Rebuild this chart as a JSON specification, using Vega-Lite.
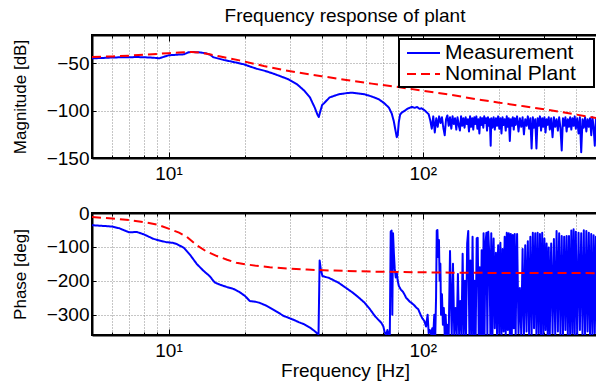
{
  "$schema": "https://vega.github.io/schema/vega-lite/v6.json",
  "padding": {"left": 10, "top": 5, "right": 0, "bottom": 0},
  "bounds": "flush",
  "spacing": 55,
  "config": {
    "font": "Liberation Sans",
    "view": {"stroke": "black", "strokeWidth": 2},
    "axis": {
      "domainColor": "black", "domainWidth": 2, "tickColor": "black", "tickWidth": 1,
      "labelColor": "black", "labelFont": "Liberation Sans", "labelFontSize": 19,
      "titleFont": "Liberation Sans", "titleFontWeight": "normal", "titleColor": "black",
      "gridColor": "#8c8c8c", "gridDash": [1, 2], "gridWidth": 1, "gridOpacity": 1
    },
    "legend": {
      "orient": "top-right", "offset": 4, "padding": 3, "strokeColor": "black", "strokeWidth": 2,
      "fillColor": "white", "labelFont": "Liberation Sans", "labelFontSize": 21, "labelColor": "black",
      "symbolType": "M-0.6,0H2.7", "symbolSize": 400, "symbolStrokeWidth": 2, "rowPadding": 0, "labelOffset": 21
    },
    "title": {"font": "Liberation Sans", "fontSize": 19, "fontWeight": "normal", "color": "black", "offset": 9, "anchor": "middle"}
  },
  "datasets": {
    "mag": [
      {"s": "Measurement", "f": 5, "v": -44.6},
      {"s": "Measurement", "f": 5.5, "v": -44.3},
      {"s": "Measurement", "f": 6, "v": -43.8},
      {"s": "Measurement", "f": 6.4, "v": -43.6},
      {"s": "Measurement", "f": 7, "v": -43.5},
      {"s": "Measurement", "f": 7.5, "v": -43.3},
      {"s": "Measurement", "f": 8, "v": -43.5},
      {"s": "Measurement", "f": 8.7, "v": -44},
      {"s": "Measurement", "f": 9.2, "v": -44.6},
      {"s": "Measurement", "f": 9.6, "v": -43},
      {"s": "Measurement", "f": 10, "v": -41.5},
      {"s": "Measurement", "f": 10.8, "v": -40.8},
      {"s": "Measurement", "f": 11.5, "v": -40.4},
      {"s": "Measurement", "f": 12, "v": -38.2},
      {"s": "Measurement", "f": 12.5, "v": -38},
      {"s": "Measurement", "f": 13.3, "v": -38.4},
      {"s": "Measurement", "f": 14.1, "v": -39.5},
      {"s": "Measurement", "f": 14.6, "v": -41},
      {"s": "Measurement", "f": 15, "v": -43.5},
      {"s": "Measurement", "f": 16.5, "v": -46.4},
      {"s": "Measurement", "f": 18, "v": -48.5},
      {"s": "Measurement", "f": 19.8, "v": -51},
      {"s": "Measurement", "f": 21, "v": -53.5},
      {"s": "Measurement", "f": 22.2, "v": -55.6},
      {"s": "Measurement", "f": 24, "v": -58},
      {"s": "Measurement", "f": 25.9, "v": -60.9},
      {"s": "Measurement", "f": 27.5, "v": -63.5},
      {"s": "Measurement", "f": 29.6, "v": -66.8},
      {"s": "Measurement", "f": 32, "v": -72},
      {"s": "Measurement", "f": 34.3, "v": -79.2},
      {"s": "Measurement", "f": 36, "v": -86},
      {"s": "Measurement", "f": 37.6, "v": -96.8},
      {"s": "Measurement", "f": 38.5, "v": -104},
      {"s": "Measurement", "f": 39, "v": -106.7},
      {"s": "Measurement", "f": 39.6, "v": -100},
      {"s": "Measurement", "f": 40.2, "v": -94},
      {"s": "Measurement", "f": 41.1, "v": -91.5},
      {"s": "Measurement", "f": 43, "v": -86},
      {"s": "Measurement", "f": 46.7, "v": -82.7},
      {"s": "Measurement", "f": 50, "v": -81.5},
      {"s": "Measurement", "f": 52.6, "v": -81},
      {"s": "Measurement", "f": 56, "v": -81.8},
      {"s": "Measurement", "f": 59.1, "v": -82.7},
      {"s": "Measurement", "f": 63, "v": -85},
      {"s": "Measurement", "f": 67.2, "v": -88},
      {"s": "Measurement", "f": 70.5, "v": -92},
      {"s": "Measurement", "f": 73.6, "v": -96.8},
      {"s": "Measurement", "f": 75.5, "v": -103},
      {"s": "Measurement", "f": 76.9, "v": -110.9},
      {"s": "Measurement", "f": 78, "v": -120},
      {"s": "Measurement", "f": 79, "v": -128},
      {"s": "Measurement", "f": 79.7, "v": -126},
      {"s": "Measurement", "f": 80.5, "v": -112},
      {"s": "Measurement", "f": 81.5, "v": -104},
      {"s": "Measurement", "f": 82.7, "v": -102},
      {"s": "Measurement", "f": 85, "v": -100},
      {"s": "Measurement", "f": 87, "v": -98},
      {"s": "Measurement", "f": 90.6, "v": -96},
      {"s": "Measurement", "f": 93, "v": -97},
      {"s": "Measurement", "f": 95, "v": -96},
      {"s": "Measurement", "f": 97, "v": -98},
      {"s": "Measurement", "f": 99, "v": -97.5},
      {"s": "Measurement", "f": 101, "v": -99},
      {"s": "Measurement", "f": 103, "v": -101},
      {"s": "Measurement", "f": 105.5, "v": -103.8},
      {"s": "Measurement", "f": 107, "v": -110},
      {"s": "Measurement", "f": 108.5, "v": -119},
      {"s": "Measurement", "f": 110, "v": -106},
      {"s": "Measurement", "f": 111.5, "v": -123},
      {"s": "Measurement", "f": 113, "v": -108},
      {"s": "Measurement", "f": 114.5, "v": -117},
      {"s": "Measurement", "f": 116, "v": -106},
      {"s": "Measurement", "f": 117.5, "v": -113},
      {"s": "Measurement", "f": 119, "v": -107},
      {"s": "Measurement", "f": 120.5, "v": -118},
      {"s": "Measurement", "f": 122, "v": -126},
      {"s": "Measurement", "f": 123.5, "v": -109},
      {"s": "Measurement", "f": 125, "v": -105},
      {"s": "Measurement", "f": 126.5, "v": -116},
      {"s": "Measurement", "f": 128, "v": -107},
      {"s": "Measurement", "f": 129.5, "v": -119},
      {"s": "Measurement", "f": 131, "v": -106},
      {"s": "Measurement", "f": 132.5, "v": -114},
      {"s": "Measurement", "f": 134, "v": -108},
      {"s": "Measurement", "f": 135.5, "v": -120},
      {"s": "Measurement", "f": 137, "v": -107},
      {"s": "Measurement", "f": 138.5, "v": -115},
      {"s": "Measurement", "f": 140, "v": -121},
      {"s": "Measurement", "f": 141.5, "v": -106},
      {"s": "Measurement", "f": 143, "v": -116},
      {"s": "Measurement", "f": 144.5, "v": -108},
      {"s": "Measurement", "f": 146, "v": -118},
      {"s": "Measurement", "f": 147.5, "v": -107},
      {"s": "Measurement", "f": 149, "v": -114},
      {"s": "Measurement", "f": 150.5, "v": -109},
      {"s": "Measurement", "f": 152, "v": -122},
      {"s": "Measurement", "f": 153.5, "v": -106},
      {"s": "Measurement", "f": 155, "v": -117},
      {"s": "Measurement", "f": 156.5, "v": -108},
      {"s": "Measurement", "f": 158, "v": -120},
      {"s": "Measurement", "f": 159.5, "v": -107},
      {"s": "Measurement", "f": 161, "v": -114},
      {"s": "Measurement", "f": 162.5, "v": -106},
      {"s": "Measurement", "f": 164, "v": -119},
      {"s": "Measurement", "f": 165.5, "v": -109},
      {"s": "Measurement", "f": 167, "v": -124},
      {"s": "Measurement", "f": 168.5, "v": -107},
      {"s": "Measurement", "f": 170, "v": -115},
      {"s": "Measurement", "f": 171.5, "v": -108},
      {"s": "Measurement", "f": 173, "v": -118},
      {"s": "Measurement", "f": 174.5, "v": -106},
      {"s": "Measurement", "f": 176, "v": -113},
      {"s": "Measurement", "f": 177.5, "v": -108},
      {"s": "Measurement", "f": 179, "v": -121},
      {"s": "Measurement", "f": 180.5, "v": -107},
      {"s": "Measurement", "f": 182, "v": -116},
      {"s": "Measurement", "f": 183.5, "v": -109},
      {"s": "Measurement", "f": 185, "v": -137},
      {"s": "Measurement", "f": 186, "v": -108},
      {"s": "Measurement", "f": 188, "v": -118},
      {"s": "Measurement", "f": 190, "v": -107},
      {"s": "Measurement", "f": 192, "v": -120},
      {"s": "Measurement", "f": 194, "v": -108},
      {"s": "Measurement", "f": 196, "v": -116},
      {"s": "Measurement", "f": 198, "v": -106},
      {"s": "Measurement", "f": 200, "v": -119},
      {"s": "Measurement", "f": 202, "v": -108},
      {"s": "Measurement", "f": 204, "v": -124},
      {"s": "Measurement", "f": 206, "v": -107},
      {"s": "Measurement", "f": 208, "v": -115},
      {"s": "Measurement", "f": 210, "v": -109},
      {"s": "Measurement", "f": 212, "v": -121},
      {"s": "Measurement", "f": 214, "v": -106},
      {"s": "Measurement", "f": 216, "v": -117},
      {"s": "Measurement", "f": 218, "v": -108},
      {"s": "Measurement", "f": 220, "v": -132},
      {"s": "Measurement", "f": 222, "v": -109},
      {"s": "Measurement", "f": 224, "v": -116},
      {"s": "Measurement", "f": 226, "v": -107},
      {"s": "Measurement", "f": 228, "v": -120},
      {"s": "Measurement", "f": 230, "v": -108},
      {"s": "Measurement", "f": 232, "v": -115},
      {"s": "Measurement", "f": 235, "v": -106},
      {"s": "Measurement", "f": 238, "v": -122},
      {"s": "Measurement", "f": 241, "v": -108},
      {"s": "Measurement", "f": 244, "v": -117},
      {"s": "Measurement", "f": 247, "v": -107},
      {"s": "Measurement", "f": 250, "v": -125},
      {"s": "Measurement", "f": 253, "v": -109},
      {"s": "Measurement", "f": 256, "v": -116},
      {"s": "Measurement", "f": 259, "v": -106},
      {"s": "Measurement", "f": 262, "v": -119},
      {"s": "Measurement", "f": 265, "v": -108},
      {"s": "Measurement", "f": 268, "v": -140},
      {"s": "Measurement", "f": 271, "v": -107},
      {"s": "Measurement", "f": 274, "v": -118},
      {"s": "Measurement", "f": 277, "v": -109},
      {"s": "Measurement", "f": 280, "v": -140},
      {"s": "Measurement", "f": 283, "v": -108},
      {"s": "Measurement", "f": 286, "v": -116},
      {"s": "Measurement", "f": 289, "v": -106},
      {"s": "Measurement", "f": 292, "v": -121},
      {"s": "Measurement", "f": 295, "v": -108},
      {"s": "Measurement", "f": 298, "v": -117},
      {"s": "Measurement", "f": 301, "v": -107},
      {"s": "Measurement", "f": 304, "v": -123},
      {"s": "Measurement", "f": 307, "v": -109},
      {"s": "Measurement", "f": 310, "v": -115},
      {"s": "Measurement", "f": 313, "v": -107},
      {"s": "Measurement", "f": 316, "v": -120},
      {"s": "Measurement", "f": 320, "v": -108},
      {"s": "Measurement", "f": 324, "v": -128},
      {"s": "Measurement", "f": 328, "v": -107},
      {"s": "Measurement", "f": 332, "v": -117},
      {"s": "Measurement", "f": 336, "v": -109},
      {"s": "Measurement", "f": 340, "v": -121},
      {"s": "Measurement", "f": 344, "v": -107},
      {"s": "Measurement", "f": 348, "v": -118},
      {"s": "Measurement", "f": 352, "v": -142},
      {"s": "Measurement", "f": 356, "v": -108},
      {"s": "Measurement", "f": 360, "v": -116},
      {"s": "Measurement", "f": 364, "v": -107},
      {"s": "Measurement", "f": 368, "v": -122},
      {"s": "Measurement", "f": 372, "v": -109},
      {"s": "Measurement", "f": 376, "v": -117},
      {"s": "Measurement", "f": 380, "v": -107},
      {"s": "Measurement", "f": 384, "v": -120},
      {"s": "Measurement", "f": 388, "v": -108},
      {"s": "Measurement", "f": 392, "v": -116},
      {"s": "Measurement", "f": 396, "v": -106},
      {"s": "Measurement", "f": 400, "v": -119},
      {"s": "Measurement", "f": 405, "v": -108},
      {"s": "Measurement", "f": 410, "v": -124},
      {"s": "Measurement", "f": 415, "v": -107},
      {"s": "Measurement", "f": 420, "v": -144},
      {"s": "Measurement", "f": 425, "v": -109},
      {"s": "Measurement", "f": 430, "v": -118},
      {"s": "Measurement", "f": 435, "v": -107},
      {"s": "Measurement", "f": 440, "v": -122},
      {"s": "Measurement", "f": 445, "v": -109},
      {"s": "Measurement", "f": 450, "v": -117},
      {"s": "Measurement", "f": 455, "v": -108},
      {"s": "Measurement", "f": 460, "v": -126},
      {"s": "Measurement", "f": 465, "v": -107},
      {"s": "Measurement", "f": 470, "v": -118},
      {"s": "Measurement", "f": 475, "v": -137},
      {"s": "Measurement", "f": 480, "v": -108},
      {"s": "Measurement", "f": 485, "v": -120},
      {"s": "Measurement", "f": 490, "v": -109},
      {"s": "Measurement", "f": 495, "v": -118},
      {"s": "Measurement", "f": 500, "v": -110},
      {"s": "Nominal Plant", "f": 5, "v": -43.3},
      {"s": "Nominal Plant", "f": 6, "v": -42.6},
      {"s": "Nominal Plant", "f": 7, "v": -41.8},
      {"s": "Nominal Plant", "f": 8, "v": -40.9},
      {"s": "Nominal Plant", "f": 9, "v": -40},
      {"s": "Nominal Plant", "f": 10, "v": -39.2},
      {"s": "Nominal Plant", "f": 11, "v": -38.5},
      {"s": "Nominal Plant", "f": 12.3, "v": -38},
      {"s": "Nominal Plant", "f": 13.5, "v": -38.8},
      {"s": "Nominal Plant", "f": 14.5, "v": -40.4},
      {"s": "Nominal Plant", "f": 16, "v": -42.8},
      {"s": "Nominal Plant", "f": 19, "v": -46.8},
      {"s": "Nominal Plant", "f": 23.7, "v": -52.8},
      {"s": "Nominal Plant", "f": 28.4, "v": -57},
      {"s": "Nominal Plant", "f": 32, "v": -59.5},
      {"s": "Nominal Plant", "f": 40, "v": -63.5},
      {"s": "Nominal Plant", "f": 50, "v": -67.5},
      {"s": "Nominal Plant", "f": 63, "v": -71.4},
      {"s": "Nominal Plant", "f": 80, "v": -75},
      {"s": "Nominal Plant", "f": 100, "v": -78.8},
      {"s": "Nominal Plant", "f": 130, "v": -83.4},
      {"s": "Nominal Plant", "f": 170, "v": -88.7},
      {"s": "Nominal Plant", "f": 200, "v": -91.5},
      {"s": "Nominal Plant", "f": 250, "v": -95.3},
      {"s": "Nominal Plant", "f": 300, "v": -98.5},
      {"s": "Nominal Plant", "f": 400, "v": -104},
      {"s": "Nominal Plant", "f": 500, "v": -108.5}
    ],
    "phase": [
      {"s": "Measurement", "f": 5, "v": -36},
      {"s": "Measurement", "f": 5.5, "v": -38},
      {"s": "Measurement", "f": 6, "v": -40},
      {"s": "Measurement", "f": 6.4, "v": -45},
      {"s": "Measurement", "f": 7, "v": -57},
      {"s": "Measurement", "f": 7.5, "v": -56},
      {"s": "Measurement", "f": 8, "v": -63},
      {"s": "Measurement", "f": 8.7, "v": -76},
      {"s": "Measurement", "f": 9.3, "v": -82},
      {"s": "Measurement", "f": 9.8, "v": -86},
      {"s": "Measurement", "f": 10.4, "v": -88},
      {"s": "Measurement", "f": 10.8, "v": -92},
      {"s": "Measurement", "f": 11.5, "v": -103},
      {"s": "Measurement", "f": 12.2, "v": -125},
      {"s": "Measurement", "f": 12.9, "v": -150},
      {"s": "Measurement", "f": 13.7, "v": -170},
      {"s": "Measurement", "f": 14.5, "v": -186},
      {"s": "Measurement", "f": 15.2, "v": -205},
      {"s": "Measurement", "f": 16, "v": -212},
      {"s": "Measurement", "f": 16.9, "v": -218},
      {"s": "Measurement", "f": 18, "v": -224},
      {"s": "Measurement", "f": 19, "v": -233},
      {"s": "Measurement", "f": 20, "v": -245},
      {"s": "Measurement", "f": 20.9, "v": -260},
      {"s": "Measurement", "f": 22, "v": -262},
      {"s": "Measurement", "f": 22.8, "v": -265},
      {"s": "Measurement", "f": 24, "v": -272},
      {"s": "Measurement", "f": 25, "v": -279},
      {"s": "Measurement", "f": 26.5, "v": -290},
      {"s": "Measurement", "f": 28.4, "v": -304},
      {"s": "Measurement", "f": 29.6, "v": -309},
      {"s": "Measurement", "f": 31, "v": -315},
      {"s": "Measurement", "f": 32.5, "v": -322},
      {"s": "Measurement", "f": 34.3, "v": -329},
      {"s": "Measurement", "f": 36, "v": -338},
      {"s": "Measurement", "f": 37.5, "v": -348},
      {"s": "Measurement", "f": 38.4, "v": -355},
      {"s": "Measurement", "f": 38.9, "v": -357},
      {"s": "Measurement", "f": 39.3, "v": -140},
      {"s": "Measurement", "f": 39.7, "v": -165},
      {"s": "Measurement", "f": 40.3, "v": -186},
      {"s": "Measurement", "f": 41.5, "v": -189},
      {"s": "Measurement", "f": 42.6, "v": -191},
      {"s": "Measurement", "f": 44.5, "v": -198},
      {"s": "Measurement", "f": 46.7, "v": -206},
      {"s": "Measurement", "f": 49, "v": -217},
      {"s": "Measurement", "f": 52.6, "v": -233},
      {"s": "Measurement", "f": 55.5, "v": -247},
      {"s": "Measurement", "f": 59.1, "v": -265},
      {"s": "Measurement", "f": 62, "v": -284},
      {"s": "Measurement", "f": 64.8, "v": -304},
      {"s": "Measurement", "f": 66.5, "v": -313},
      {"s": "Measurement", "f": 68.7, "v": -324},
      {"s": "Measurement", "f": 70, "v": -335},
      {"s": "Measurement", "f": 70.9, "v": -353},
      {"s": "Measurement", "f": 71.8, "v": -360},
      {"s": "Measurement", "f": 72.6, "v": -345},
      {"s": "Measurement", "f": 73.4, "v": -360},
      {"s": "Measurement", "f": 74.2, "v": -360},
      {"s": "Measurement", "f": 74.8, "v": -55},
      {"s": "Measurement", "f": 75.4, "v": -52},
      {"s": "Measurement", "f": 75.9, "v": -300},
      {"s": "Measurement", "f": 76.4, "v": -60},
      {"s": "Measurement", "f": 77, "v": -120},
      {"s": "Measurement", "f": 77.6, "v": -165},
      {"s": "Measurement", "f": 78.3, "v": -190},
      {"s": "Measurement", "f": 79, "v": -175},
      {"s": "Measurement", "f": 79.7, "v": -200},
      {"s": "Measurement", "f": 80.5, "v": -215},
      {"s": "Measurement", "f": 82, "v": -226},
      {"s": "Measurement", "f": 83.5, "v": -232},
      {"s": "Measurement", "f": 84.7, "v": -240},
      {"s": "Measurement", "f": 86, "v": -250},
      {"s": "Measurement", "f": 87.5, "v": -256},
      {"s": "Measurement", "f": 89, "v": -262},
      {"s": "Measurement", "f": 90.6, "v": -266},
      {"s": "Measurement", "f": 92.5, "v": -272},
      {"s": "Measurement", "f": 94, "v": -278},
      {"s": "Measurement", "f": 96, "v": -284},
      {"s": "Measurement", "f": 98, "v": -300},
      {"s": "Measurement", "f": 99.5, "v": -310},
      {"s": "Measurement", "f": 101.5, "v": -319},
      {"s": "Measurement", "f": 103, "v": -335},
      {"s": "Measurement", "f": 104.5, "v": -300},
      {"s": "Measurement", "f": 105.5, "v": -355},
      {"s": "Measurement", "f": 106.5, "v": -345},
      {"s": "Measurement", "f": 108, "v": -358},
      {"s": "Measurement", "f": 109, "v": -340},
      {"s": "Measurement", "f": 110, "v": -360},
      {"s": "Measurement", "f": 111, "v": -300},
      {"s": "Measurement", "f": 112, "v": -360},
      {"s": "Measurement", "f": 112.8, "v": -250},
      {"s": "Measurement", "f": 113.5, "v": -52},
      {"s": "Measurement", "f": 114.2, "v": -50},
      {"s": "Measurement", "f": 115, "v": -130},
      {"s": "Measurement", "f": 115.8, "v": -80},
      {"s": "Measurement", "f": 116.5, "v": -200},
      {"s": "Measurement", "f": 117.3, "v": -150},
      {"s": "Measurement", "f": 118, "v": -300},
      {"s": "Measurement", "f": 119, "v": -240},
      {"s": "Measurement", "f": 120, "v": -330},
      {"s": "Measurement", "f": 121, "v": -280},
      {"s": "Measurement", "f": 122, "v": -360},
      {"s": "Measurement", "f": 123, "v": -300},
      {"s": "Measurement", "f": 124, "v": -360},
      {"s": "Measurement", "f": 125.5, "v": -330},
      {"s": "Measurement", "f": 126.5, "v": -360},
      {"s": "Measurement", "f": 128, "v": -112},
      {"s": "Measurement", "f": 129, "v": -250},
      {"s": "Measurement", "f": 130, "v": -360},
      {"s": "Measurement", "f": 131.5, "v": -150},
      {"s": "Measurement", "f": 133, "v": -360},
      {"s": "Measurement", "f": 134.5, "v": -280},
      {"s": "Measurement", "f": 136, "v": -360},
      {"s": "Measurement", "f": 137.5, "v": -180},
      {"s": "Measurement", "f": 139, "v": -360},
      {"s": "Measurement", "f": 140.5, "v": -260},
      {"s": "Measurement", "f": 142, "v": -360},
      {"s": "Measurement", "f": 143.5, "v": -120},
      {"s": "Measurement", "f": 145, "v": -360},
      {"s": "Measurement", "f": 146.5, "v": -200},
      {"s": "Measurement", "f": 148, "v": -360},
      {"s": "Measurement", "f": 149.5, "v": -90},
      {"s": "Measurement", "f": 151, "v": -53},
      {"s": "Measurement", "f": 152.5, "v": -360},
      {"s": "Measurement", "f": 154, "v": -140},
      {"s": "Measurement", "f": 155.5, "v": -360},
      {"s": "Measurement", "f": 157, "v": -70},
      {"s": "Measurement", "f": 158.5, "v": -360},
      {"s": "Measurement", "f": 160, "v": -200},
      {"s": "Measurement", "f": 161.5, "v": -360},
      {"s": "Measurement", "f": 163, "v": -75},
      {"s": "Measurement", "f": 164.5, "v": -73},
      {"s": "Measurement", "f": 166, "v": -360},
      {"s": "Measurement", "f": 167.5, "v": -160},
      {"s": "Measurement", "f": 169, "v": -360},
      {"s": "Measurement", "f": 170.5, "v": -110},
      {"s": "Measurement", "f": 172, "v": -360},
      {"s": "Measurement", "f": 173.5, "v": -60},
      {"s": "Measurement", "f": 175, "v": -360},
      {"s": "Measurement", "f": 176.5, "v": -90},
      {"s": "Measurement", "f": 178, "v": -58},
      {"s": "Measurement", "f": 179.5, "v": -360},
      {"s": "Measurement", "f": 181, "v": -55},
      {"s": "Measurement", "f": 183, "v": -136},
      {"s": "Measurement", "f": 184.5, "v": -360},
      {"s": "Measurement", "f": 186, "v": -60},
      {"s": "Measurement", "f": 187, "v": -250},
      {"s": "Measurement", "f": 188, "v": -360},
      {"s": "Measurement", "f": 189, "v": -140},
      {"s": "Measurement", "f": 190, "v": -75},
      {"s": "Measurement", "f": 192, "v": -340},
      {"s": "Measurement", "f": 194, "v": -117},
      {"s": "Measurement", "f": 195, "v": -250},
      {"s": "Measurement", "f": 196, "v": -360},
      {"s": "Measurement", "f": 197, "v": -160},
      {"s": "Measurement", "f": 198, "v": -95},
      {"s": "Measurement", "f": 200, "v": -355},
      {"s": "Measurement", "f": 202, "v": -88},
      {"s": "Measurement", "f": 203, "v": -230},
      {"s": "Measurement", "f": 204, "v": -360},
      {"s": "Measurement", "f": 206, "v": -106},
      {"s": "Measurement", "f": 208, "v": -350},
      {"s": "Measurement", "f": 209, "v": -180},
      {"s": "Measurement", "f": 210, "v": -70},
      {"s": "Measurement", "f": 212, "v": -360},
      {"s": "Measurement", "f": 214, "v": -58},
      {"s": "Measurement", "f": 215, "v": -200},
      {"s": "Measurement", "f": 216, "v": -345},
      {"s": "Measurement", "f": 218, "v": -60},
      {"s": "Measurement", "f": 220, "v": -360},
      {"s": "Measurement", "f": 221, "v": -150},
      {"s": "Measurement", "f": 222, "v": -62},
      {"s": "Measurement", "f": 224, "v": -360},
      {"s": "Measurement", "f": 226, "v": -65},
      {"s": "Measurement", "f": 227, "v": -240},
      {"s": "Measurement", "f": 228, "v": -340},
      {"s": "Measurement", "f": 230, "v": -62},
      {"s": "Measurement", "f": 232, "v": -360},
      {"s": "Measurement", "f": 233.5, "v": -170},
      {"s": "Measurement", "f": 235, "v": -62},
      {"s": "Measurement", "f": 238, "v": -355},
      {"s": "Measurement", "f": 241, "v": -221},
      {"s": "Measurement", "f": 244, "v": -360},
      {"s": "Measurement", "f": 247, "v": -106},
      {"s": "Measurement", "f": 248.5, "v": -260},
      {"s": "Measurement", "f": 250, "v": -360},
      {"s": "Measurement", "f": 253, "v": -95},
      {"s": "Measurement", "f": 256, "v": -350},
      {"s": "Measurement", "f": 257.5, "v": -190},
      {"s": "Measurement", "f": 259, "v": -83},
      {"s": "Measurement", "f": 262, "v": -360},
      {"s": "Measurement", "f": 265, "v": -70},
      {"s": "Measurement", "f": 266.5, "v": -230},
      {"s": "Measurement", "f": 268, "v": -360},
      {"s": "Measurement", "f": 271, "v": -58},
      {"s": "Measurement", "f": 274, "v": -340},
      {"s": "Measurement", "f": 275.5, "v": -160},
      {"s": "Measurement", "f": 277, "v": -60},
      {"s": "Measurement", "f": 280, "v": -360},
      {"s": "Measurement", "f": 283, "v": -58},
      {"s": "Measurement", "f": 284.5, "v": -250},
      {"s": "Measurement", "f": 286, "v": -355},
      {"s": "Measurement", "f": 289, "v": -62},
      {"s": "Measurement", "f": 292, "v": -360},
      {"s": "Measurement", "f": 293.5, "v": -180},
      {"s": "Measurement", "f": 295, "v": -58},
      {"s": "Measurement", "f": 298, "v": -360},
      {"s": "Measurement", "f": 301, "v": -75},
      {"s": "Measurement", "f": 304, "v": -345},
      {"s": "Measurement", "f": 305.5, "v": -200},
      {"s": "Measurement", "f": 307, "v": -90},
      {"s": "Measurement", "f": 310, "v": -360},
      {"s": "Measurement", "f": 313, "v": -102},
      {"s": "Measurement", "f": 316, "v": -360},
      {"s": "Measurement", "f": 318, "v": -210},
      {"s": "Measurement", "f": 320, "v": -90},
      {"s": "Measurement", "f": 324, "v": -355},
      {"s": "Measurement", "f": 328, "v": -77},
      {"s": "Measurement", "f": 330, "v": -240},
      {"s": "Measurement", "f": 332, "v": -360},
      {"s": "Measurement", "f": 336, "v": -53},
      {"s": "Measurement", "f": 340, "v": -350},
      {"s": "Measurement", "f": 342, "v": -170},
      {"s": "Measurement", "f": 344, "v": -60},
      {"s": "Measurement", "f": 348, "v": -360},
      {"s": "Measurement", "f": 352, "v": -68},
      {"s": "Measurement", "f": 354, "v": -220},
      {"s": "Measurement", "f": 356, "v": -360},
      {"s": "Measurement", "f": 360, "v": -70},
      {"s": "Measurement", "f": 364, "v": -345},
      {"s": "Measurement", "f": 366, "v": -190},
      {"s": "Measurement", "f": 368, "v": -68},
      {"s": "Measurement", "f": 372, "v": -360},
      {"s": "Measurement", "f": 376, "v": -68},
      {"s": "Measurement", "f": 378, "v": -250},
      {"s": "Measurement", "f": 380, "v": -360},
      {"s": "Measurement", "f": 384, "v": -52},
      {"s": "Measurement", "f": 388, "v": -355},
      {"s": "Measurement", "f": 390, "v": -160},
      {"s": "Measurement", "f": 392, "v": -48},
      {"s": "Measurement", "f": 396, "v": -360},
      {"s": "Measurement", "f": 400, "v": -55},
      {"s": "Measurement", "f": 402.5, "v": -230},
      {"s": "Measurement", "f": 405, "v": -360},
      {"s": "Measurement", "f": 410, "v": -58},
      {"s": "Measurement", "f": 415, "v": -345},
      {"s": "Measurement", "f": 417.5, "v": -180},
      {"s": "Measurement", "f": 420, "v": -60},
      {"s": "Measurement", "f": 425, "v": -360},
      {"s": "Measurement", "f": 430, "v": -51},
      {"s": "Measurement", "f": 432.5, "v": -240},
      {"s": "Measurement", "f": 435, "v": -360},
      {"s": "Measurement", "f": 440, "v": -53},
      {"s": "Measurement", "f": 445, "v": -350},
      {"s": "Measurement", "f": 447.5, "v": -200},
      {"s": "Measurement", "f": 450, "v": -58},
      {"s": "Measurement", "f": 455, "v": -360},
      {"s": "Measurement", "f": 460, "v": -62},
      {"s": "Measurement", "f": 462.5, "v": -260},
      {"s": "Measurement", "f": 465, "v": -360},
      {"s": "Measurement", "f": 470, "v": -66},
      {"s": "Measurement", "f": 475, "v": -355},
      {"s": "Measurement", "f": 477.5, "v": -170},
      {"s": "Measurement", "f": 480, "v": -70},
      {"s": "Measurement", "f": 485, "v": -360},
      {"s": "Measurement", "f": 490, "v": -77},
      {"s": "Measurement", "f": 495, "v": -360},
      {"s": "Measurement", "f": 500, "v": -80},
      {"s": "Nominal Plant", "f": 5, "v": -12},
      {"s": "Nominal Plant", "f": 6, "v": -16},
      {"s": "Nominal Plant", "f": 7, "v": -21},
      {"s": "Nominal Plant", "f": 8, "v": -27},
      {"s": "Nominal Plant", "f": 9, "v": -34},
      {"s": "Nominal Plant", "f": 10, "v": -46},
      {"s": "Nominal Plant", "f": 11, "v": -58},
      {"s": "Nominal Plant", "f": 11.8, "v": -70},
      {"s": "Nominal Plant", "f": 12.9, "v": -95},
      {"s": "Nominal Plant", "f": 14, "v": -112},
      {"s": "Nominal Plant", "f": 15.5, "v": -127},
      {"s": "Nominal Plant", "f": 17, "v": -138},
      {"s": "Nominal Plant", "f": 18.5, "v": -147},
      {"s": "Nominal Plant", "f": 20, "v": -151},
      {"s": "Nominal Plant", "f": 22.2, "v": -156},
      {"s": "Nominal Plant", "f": 25, "v": -160},
      {"s": "Nominal Plant", "f": 28.4, "v": -163},
      {"s": "Nominal Plant", "f": 35, "v": -167},
      {"s": "Nominal Plant", "f": 45, "v": -170},
      {"s": "Nominal Plant", "f": 63, "v": -173},
      {"s": "Nominal Plant", "f": 100, "v": -175},
      {"s": "Nominal Plant", "f": 130, "v": -176},
      {"s": "Nominal Plant", "f": 200, "v": -177},
      {"s": "Nominal Plant", "f": 300, "v": -177},
      {"s": "Nominal Plant", "f": 500, "v": -177.5}
    ]
  },
  "vconcat": [
    {
      "width": 506,
      "height": 123,
      "title": {"text": "Frequency response of plant"},
      "data": {"name": "mag"},
      "layer": [
        {
          "transform": [{"filter": "datum.s === 'Measurement'"}],
          "mark": {"type": "line", "strokeWidth": 2, "clip": true, "strokeJoin": "round"},
          "encoding": {
            "x": {"field": "f", "type": "quantitative",
              "scale": {"type": "log", "domain": [5, 489], "nice": false},
              "axis": {"values": [5, 6, 7, 8, 9, 10, 20, 30, 40, 50, 60, 70, 80, 90, 100, 200, 300, 400],
                "labelExpr": "datum.value === 10 ? '10¹' : (datum.value === 100 ? '10²' : '')",
                "grid": true, "title": null, "labelOverlap": false, "labelFlush": false,
                "tickSize": {"condition": {"test": "datum.value === 10 || datum.value === 100", "value": -6}, "value": -3},
                "labelPadding": 12}},
            "y": {"field": "v", "type": "quantitative",
              "scale": {"domain": [-150, -20], "nice": false, "zero": false},
              "axis": {"values": [-150, -100, -50], "grid": true, "title": "Magnitude [dB]", "titleFontSize": 17,
                "titlePadding": 17, "tickSize": -4, "labelPadding": 7}},
            "color": {"field": "s", "type": "nominal",
              "scale": {"domain": ["Measurement", "Nominal Plant"], "range": ["#0000ff", "#ff0000"]},
              "legend": {"title": null, "labelExpr": "datum.label + '\u2800'"}},
            "strokeDash": {"field": "s", "type": "nominal",
              "scale": {"domain": ["Measurement", "Nominal Plant"], "range": [[1, 0], [9, 5]]},
              "legend": {"title": null, "labelExpr": "datum.label + '\u2800'"}}
          }
        },
        {
          "transform": [{"filter": "datum.s === 'Nominal Plant'"}],
          "mark": {"type": "line", "strokeWidth": 2, "clip": true},
          "encoding": {
            "x": {"field": "f", "type": "quantitative",
              "scale": {"type": "log", "domain": [5, 489], "nice": false},
              "axis": {"orient": "top", "values": [5, 6, 7, 8, 9, 10, 20, 30, 40, 50, 60, 70, 80, 90, 100, 200, 300, 400],
                "labels": false, "grid": false, "title": null,
                "tickSize": {"condition": {"test": "datum.value === 10 || datum.value === 100", "value": -6}, "value": -3}}},
            "y": {"field": "v", "type": "quantitative",
              "scale": {"domain": [-150, -20], "nice": false, "zero": false}},
            "color": {"field": "s", "type": "nominal",
              "scale": {"domain": ["Measurement", "Nominal Plant"], "range": ["#0000ff", "#ff0000"]},
              "legend": {"title": null, "labelExpr": "datum.label + '\u2800'"}},
            "strokeDash": {"field": "s", "type": "nominal",
              "scale": {"domain": ["Measurement", "Nominal Plant"], "range": [[1, 0], [9, 5]]},
              "legend": {"title": null, "labelExpr": "datum.label + '\u2800'"}}
          }
        }
      ],
      "resolve": {"axis": {"x": "independent"}}
    },
    {
      "width": 506,
      "height": 122,
      "data": {"name": "phase"},
      "layer": [
        {
          "transform": [{"filter": "datum.s === 'Measurement'"}],
          "mark": {"type": "line", "strokeWidth": 2, "clip": true, "strokeJoin": "round"},
          "encoding": {
            "x": {"field": "f", "type": "quantitative",
              "scale": {"type": "log", "domain": [5, 489], "nice": false},
              "axis": {"values": [5, 6, 7, 8, 9, 10, 20, 30, 40, 50, 60, 70, 80, 90, 100, 200, 300, 400],
                "labelExpr": "datum.value === 10 ? '10¹' : (datum.value === 100 ? '10²' : '')",
                "grid": true, "title": "Frequency [Hz]", "titleFontSize": 19, "titlePadding": -2,
                "labelOverlap": false, "labelFlush": false,
                "tickSize": {"condition": {"test": "datum.value === 10 || datum.value === 100", "value": -6}, "value": -3},
                "labelPadding": 12}},
            "y": {"field": "v", "type": "quantitative",
              "scale": {"domain": [-360, 0], "nice": false, "zero": false},
              "axis": {"values": [-300, -200, -100, 0], "grid": true, "title": "Phase [deg]", "titleFontSize": 17,
                "titlePadding": 17, "tickSize": -4, "labelPadding": 7}},
            "color": {"field": "s", "type": "nominal",
              "scale": {"domain": ["Measurement", "Nominal Plant"], "range": ["#0000ff", "#ff0000"]},
              "legend": null},
            "strokeDash": {"field": "s", "type": "nominal",
              "scale": {"domain": ["Measurement", "Nominal Plant"], "range": [[1, 0], [9, 5]]},
              "legend": null}
          }
        },
        {
          "transform": [{"filter": "datum.s === 'Nominal Plant'"}],
          "mark": {"type": "line", "strokeWidth": 2, "clip": true},
          "encoding": {
            "x": {"field": "f", "type": "quantitative",
              "scale": {"type": "log", "domain": [5, 489], "nice": false},
              "axis": {"orient": "top", "values": [5, 6, 7, 8, 9, 10, 20, 30, 40, 50, 60, 70, 80, 90, 100, 200, 300, 400],
                "labels": false, "grid": false, "title": null,
                "tickSize": {"condition": {"test": "datum.value === 10 || datum.value === 100", "value": -6}, "value": -3}}},
            "y": {"field": "v", "type": "quantitative",
              "scale": {"domain": [-360, 0], "nice": false, "zero": false}},
            "color": {"field": "s", "type": "nominal",
              "scale": {"domain": ["Measurement", "Nominal Plant"], "range": ["#0000ff", "#ff0000"]},
              "legend": null},
            "strokeDash": {"field": "s", "type": "nominal",
              "scale": {"domain": ["Measurement", "Nominal Plant"], "range": [[1, 0], [9, 5]]},
              "legend": null}
          }
        }
      ],
      "resolve": {"axis": {"x": "independent"}}
    }
  ],
  "resolve": {
    "scale": {"color": "independent", "strokeDash": "independent"},
    "legend": {"color": "independent", "strokeDash": "independent"}
  }
}
